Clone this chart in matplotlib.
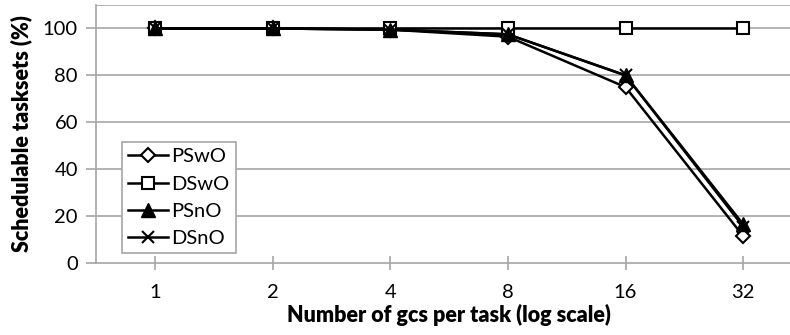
import matplotlib.pyplot as plt

plt.rcParams["font.family"] = ["Lato", "DejaVu Sans"]

gcs = ["1", "2", "4", "8", "16", "32"]
pswo = [100, 100, 99.5, 96.5, 75, 11.5]
dswo = [100, 100, 100, 100, 100, 100]
psno = [100, 100, 99.5, 97.5, 80, 16.5]
dsno = [100, 100, 99.5, 97.5, 80, 15.5]

fig = plt.figure(figsize=(7.9, 3.35), dpi=100)
ax = fig.add_axes([96/790, (335-263)/335, (802-96)/790, (263-5)/335])

x = range(len(gcs))
ax.plot(x, pswo, color="black", lw=1.8, marker="D", ms=7.5, mfc="white", mec="black", mew=1.5, label="PSwO", zorder=3)
ax.plot(x, dswo, color="black", lw=1.8, marker="s", ms=9, mfc="white", mec="black", mew=1.5, label="DSwO", zorder=3)
ax.plot(x, psno, color="black", lw=1.8, marker="^", ms=9.5, mfc="black", mec="black", label="PSnO", zorder=4)
ax.plot(x, dsno, color="black", lw=1.8, marker="x", ms=9, mew=1.5, label="DSnO", zorder=4)

ax.set_xlim(-0.5, 5.5)
ax.set_ylim(0, 110)
ax.set_yticks([0, 20, 40, 60, 80, 100])
ax.set_xticks(list(x))
ax.set_xticklabels(gcs)

for yv in [20, 40, 60, 80, 100, 110]:
    ax.axhline(yv, color="#a6a6a6", lw=1.2, zorder=1)

for s in ["top", "right"]:
    ax.spines[s].set_visible(False)
ax.spines["left"].set_color("#a6a6a6")
ax.spines["bottom"].set_color("#a6a6a6")
ax.spines["left"].set_linewidth(1.2)
ax.spines["bottom"].set_linewidth(1.2)

ax.tick_params(axis="y", direction="out", length=7, color="#a6a6a6", width=1.2, labelsize=14.5, pad=6)
ax.tick_params(axis="x", direction="inout", length=10, color="#a6a6a6", width=1.2, labelsize=14.5, pad=10)

ax.set_xlabel("Number of gcs per task (log scale)", fontsize=15.5, fontweight="heavy", labelpad=2)
ax.set_ylabel("Schedulable tasksets (%)", fontsize=15.5, fontweight="heavy", labelpad=8)

leg = ax.legend(loc="lower left", bbox_to_anchor=(26/706, 10/258), fontsize=14.5,
                frameon=True, fancybox=False, edgecolor="#a6a6a6", framealpha=1,
                handlelength=2.0, handletextpad=0.15, labelspacing=0.5, borderpad=0.3,
                borderaxespad=0)
leg.get_frame().set_linewidth(1.2)

fig.savefig("out.png", dpi=100)
